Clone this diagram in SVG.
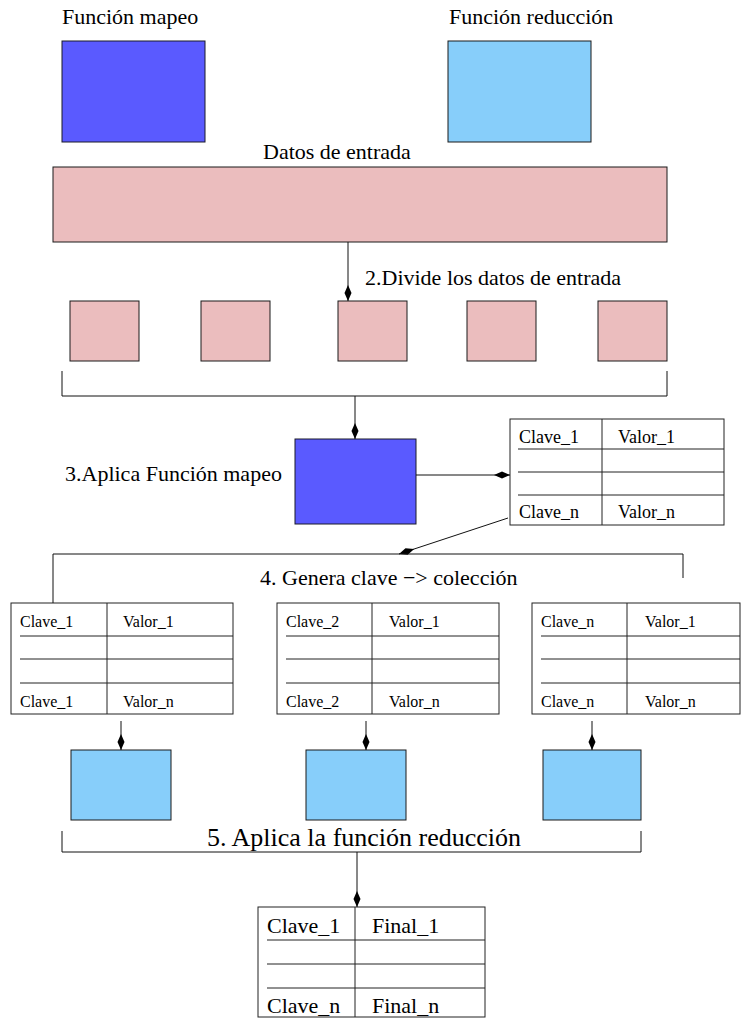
<svg xmlns="http://www.w3.org/2000/svg" width="744" height="1021" viewBox="0 0 744 1021">
  <defs>
    <style>
      text { font-family: "Liberation Serif", "Times New Roman", serif; fill: #000; }
      .lbl { font-size: 22px; }
      .big { font-size: 26px; }
      .t18 { font-size: 18px; }
      .t16 { font-size: 16px; }
      .t22 { font-size: 22px; }
      .map { fill: #5a5aff; stroke: #1a1a2a; stroke-width: 1; }
      .red { fill: #87cefa; stroke: #1a1a1a; stroke-width: 1; }
      .dat { fill: #ebbdbe; stroke: #1a1a1a; stroke-width: 1; }
      .tbl { fill: #fff; stroke: #222; stroke-width: 1; }
      .tl { stroke: #222; stroke-width: 1; fill: none; }
      .con { stroke: #111; stroke-width: 1; fill: none; }
      .arr { stroke: #111; stroke-width: 1; fill: none; marker-end: url(#kite); }
    </style>
    <marker id="kite" markerUnits="userSpaceOnUse" viewBox="-16 -4 16 8" markerWidth="16" markerHeight="8" refX="0" refY="0" orient="auto">
      <path d="M0,0 L-8,-3.5 L-16,0 L-8,3.5 Z" fill="#000"/>
    </marker>
  </defs>

  <g id="legend-map">
    <text class="lbl" x="62" y="24">Función mapeo</text>
    <rect class="map" x="62" y="41" width="143" height="101"/>
  </g>
  <g id="legend-reduce">
    <text class="lbl" x="449" y="24">Función reducción</text>
    <rect class="red" x="448" y="41" width="143" height="101"/>
  </g>
  <g id="input-data">
    <text class="lbl" x="263" y="159">Datos de entrada</text>
    <rect class="dat" x="53" y="167" width="614" height="75"/>
  </g>

  <g id="split-1"><rect class="dat" x="70" y="301" width="69" height="60"/></g>
  <g id="split-2"><rect class="dat" x="201" y="301" width="69" height="60"/></g>
  <g id="split-3"><rect class="dat" x="338" y="301" width="69" height="60"/></g>
  <g id="split-4"><rect class="dat" x="467" y="301" width="69" height="60"/></g>
  <g id="split-5"><rect class="dat" x="598" y="301" width="69" height="60"/></g>

  <g id="step2-label"><text class="lbl" x="365" y="285">2.Divide los datos de entrada</text></g>

  <g id="map-func">
    <text class="lbl" x="65" y="481">3.Aplica Función mapeo</text>
    <rect class="map" x="295" y="439" width="121" height="85"/>
  </g>

  <g id="map-output">
    <rect class="tbl" x="510" y="419" width="214" height="106"/>
    <line class="tl" x1="602" y1="419" x2="602" y2="525"/>
    <line class="tl" x1="518" y1="449" x2="724" y2="449"/>
    <line class="tl" x1="518" y1="472" x2="724" y2="472"/>
    <line class="tl" x1="518" y1="495" x2="724" y2="495"/>
    <text class="t18" x="519" y="443">Clave_1</text>
    <text class="t18" x="618" y="443">Valor_1</text>
    <text class="t18" x="519" y="518">Clave_n</text>
    <text class="t18" x="618" y="518">Valor_n</text>
  </g>

  <g id="step4-label"><text class="lbl" x="260" y="585">4. Genera clave −&gt; colección</text></g>

  <g id="group-1">
    <rect class="tbl" x="11" y="603" width="222" height="111"/>
    <line class="tl" x1="107" y1="603" x2="107" y2="714"/>
    <line class="tl" x1="20" y1="636" x2="233" y2="636"/>
    <line class="tl" x1="20" y1="659" x2="233" y2="659"/>
    <line class="tl" x1="20" y1="683" x2="233" y2="683"/>
    <text class="t16" x="20" y="627">Clave_1</text>
    <text class="t16" x="123" y="627">Valor_1</text>
    <text class="t16" x="20" y="707">Clave_1</text>
    <text class="t16" x="123" y="707">Valor_n</text>
  </g>
  <g id="group-2">
    <rect class="tbl" x="277" y="603" width="222" height="111"/>
    <line class="tl" x1="372" y1="603" x2="372" y2="714"/>
    <line class="tl" x1="286" y1="636" x2="499" y2="636"/>
    <line class="tl" x1="286" y1="659" x2="499" y2="659"/>
    <line class="tl" x1="286" y1="683" x2="499" y2="683"/>
    <text class="t16" x="286" y="627">Clave_2</text>
    <text class="t16" x="389" y="627">Valor_1</text>
    <text class="t16" x="286" y="707">Clave_2</text>
    <text class="t16" x="389" y="707">Valor_n</text>
  </g>
  <g id="group-n">
    <rect class="tbl" x="532" y="603" width="208" height="111"/>
    <line class="tl" x1="627" y1="603" x2="627" y2="714"/>
    <line class="tl" x1="541" y1="636" x2="740" y2="636"/>
    <line class="tl" x1="541" y1="659" x2="740" y2="659"/>
    <line class="tl" x1="541" y1="683" x2="740" y2="683"/>
    <text class="t16" x="541" y="627">Clave_n</text>
    <text class="t16" x="645" y="627">Valor_1</text>
    <text class="t16" x="541" y="707">Clave_n</text>
    <text class="t16" x="645" y="707">Valor_n</text>
  </g>

  <g id="reduce-1"><rect class="red" x="71" y="750" width="100" height="70"/></g>
  <g id="reduce-2"><rect class="red" x="306" y="750" width="100" height="70"/></g>
  <g id="reduce-n"><rect class="red" x="543" y="750" width="98" height="70"/></g>

  <g id="step5-label"><text class="big" x="207" y="846">5. Aplica la función reducción</text></g>

  <g id="final-output">
    <rect class="tbl" x="258" y="907" width="227" height="110"/>
    <line class="tl" x1="355" y1="907" x2="355" y2="1017"/>
    <line class="tl" x1="267" y1="940" x2="485" y2="940"/>
    <line class="tl" x1="267" y1="964" x2="485" y2="964"/>
    <line class="tl" x1="267" y1="988" x2="485" y2="988"/>
    <text class="t22" x="267" y="933">Clave_1</text>
    <text class="t22" x="372" y="933">Final_1</text>
    <text class="t22" x="267" y="1013">Clave_n</text>
    <text class="t22" x="372" y="1013">Final_n</text>
  </g>

  <g id="connectors">
    <line class="arr" x1="348" y1="242" x2="348" y2="301"/>
    <polyline class="con" points="62,371 62,396 667,396 667,371"/>
    <line class="arr" x1="355" y1="396" x2="355" y2="439"/>
    <line class="arr" x1="416" y1="475" x2="510" y2="475"/>
    <line class="arr" x1="508" y1="518" x2="399" y2="554"/>
    <polyline class="con" points="53,603 53,554 683,554 683,578"/>
    <line class="arr" x1="121" y1="721" x2="121" y2="750"/>
    <line class="arr" x1="366" y1="721" x2="366" y2="750"/>
    <line class="arr" x1="592" y1="721" x2="592" y2="750"/>
    <polyline class="con" points="62,831 62,852 641,852 641,831"/>
    <line class="arr" x1="357" y1="852" x2="357" y2="907"/>
  </g>
</svg>
